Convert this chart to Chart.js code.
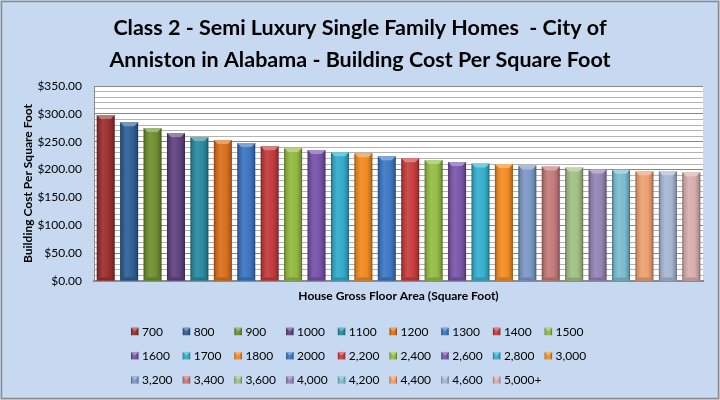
<!DOCTYPE html>
<html>
<head>
<meta charset="utf-8">
<script src="https://cdn.jsdelivr.net/npm/chart.js@4"></script>
<style>
  body { margin: 0; background: #ffffff; }
  #wrap { width: 720px; height: 400px; }
</style>
</head>
<body>
<div id="wrap"><canvas id="costChart" width="720" height="400"></canvas></div>
<script>
// house sizes (legend / categories)
const sizes = ["700", "800", "900", "1000", "1100", "1200", "1300", "1400", "1500",
  "1600", "1700", "1800", "2000", "2,200", "2,400", "2,600", "2,800", "3,000",
  "3,200", "3,400", "3,600", "4,000", "4,200", "4,400", "4,600", "5,000+"];

// building cost per square foot
const costs = [298, 285, 274.5, 265.5, 258.3, 253, 247.5, 242, 238.5,
  235, 231.3, 229.5, 224, 220.5, 217, 213.4, 211, 209.8,
  207.4, 205.6, 203.8, 200.2, 199.6, 197.2, 197.2, 195.4];

const barColors = ["#9B2F2F", "#2F5F97", "#6F8F30", "#5F437F", "#2B8AA0", "#D9701C",
  "#3B75BF", "#C23B3B", "#92B840", "#7752A8", "#33AACC", "#F08A22",
  "#3C78C2", "#C83D3D", "#94BC44", "#7A56AA", "#36B0CE", "#F28C24",
  "#7B98C6", "#C57A7A", "#A2BF84", "#9485B4", "#7BBCD0", "#ECA070",
  "#A7B6D4", "#D8AEAE"];

const yMax = 350;
const yMinorStep = 10;
const yMajorStep = 50;

const titleLines = ["Class 2 - Semi Luxury Single Family Homes  - City of",
  "Anniston in Alabama - Building Cost Per Square Foot"];
const xTitle = "House Gross Floor Area (Square Foot)";
const yTitle = "Building Cost Per Square Foot";

const BAR_PCT = 0.77;

function shade(hex, amt) {
  const n = parseInt(hex.slice(1), 16);
  let r = (n >> 16) & 255, g = (n >> 8) & 255, b = n & 255;
  const t = amt < 0 ? 0 : 255;
  const p = Math.abs(amt);
  r = Math.round(r + (t - r) * p);
  g = Math.round(g + (t - g) * p);
  b = Math.round(b + (t - b) * p);
  return `rgb(${r},${g},${b})`;
}

function bevelGradient(ctx, x0, x1, base) {
  const g = ctx.createLinearGradient(x0, 0, x1, 0);
  g.addColorStop(0, shade(base, -0.4));
  g.addColorStop(0.12, shade(base, -0.1));
  g.addColorStop(0.35, shade(base, 0.08));
  g.addColorStop(0.7, base);
  g.addColorStop(0.9, shade(base, -0.18));
  g.addColorStop(1, shade(base, -0.45));
  return g;
}

function barFill(c) {
  const chart = c.chart;
  const base = barColors[c.dataIndex];
  const xs = chart.scales.x;
  if (!xs || !xs.width) return base;
  const cx = xs.getPixelForValue(c.dataIndex);
  const w = xs.width / sizes.length * BAR_PCT;
  return bevelGradient(chart.ctx, cx - w / 2, cx + w / 2, base);
}

// background, frame and white plot area
const backdrop = {
  id: "backdrop",
  beforeDraw(chart) {
    const { ctx, chartArea: a } = chart;
    ctx.save();
    ctx.fillStyle = "#C6D9F1";
    ctx.fillRect(0, 0, chart.width, chart.height);
    ctx.strokeStyle = "#8A8A8A";
    ctx.lineWidth = 1.5;
    ctx.strokeRect(1.5, 1.5, chart.width - 3, chart.height - 3);
    ctx.fillStyle = "#ffffff";
    ctx.fillRect(a.left, a.top, a.right - a.left, a.bottom - a.top);
    ctx.restore();
  }
};

// light top caps on the bars
const bevelCaps = {
  id: "bevelCaps",
  afterDatasetsDraw(chart) {
    const ctx = chart.ctx;
    const meta = chart.getDatasetMeta(0);
    ctx.save();
    meta.data.forEach((bar, i) => {
      const { x, y, base, width } = bar.getProps(["x", "y", "base", "width"], true);
      const l = x - width / 2, r = x + width / 2;
      const col = barColors[i];
      ctx.fillStyle = shade(col, 0.35);
      ctx.beginPath();
      ctx.moveTo(l, y);
      ctx.lineTo(r, y);
      ctx.lineTo(r - 4, y + 4);
      ctx.lineTo(l + 4, y + 4);
      ctx.closePath();
      ctx.fill();
      ctx.fillStyle = shade(col, -0.15);
      ctx.beginPath();
      ctx.moveTo(l, base);
      ctx.lineTo(r, base);
      ctx.lineTo(r - 4, base - 3);
      ctx.lineTo(l + 4, base - 3);
      ctx.closePath();
      ctx.fill();
    });
    ctx.restore();
  }
};

// legend laid out as a grid, like the original
const gridLegend = {
  id: "gridLegend",
  afterDraw(chart) {
    const ctx = chart.ctx;
    const perRow = 9, x0 = 131, pitch = 51.7, y0 = 331.5, rowGap = 24.2, box = 7.5;
    ctx.save();
    ctx.font = "12px Lato";
    ctx.textBaseline = "middle";
    ctx.textAlign = "left";
    sizes.forEach((label, i) => {
      const x = x0 + (i % perRow) * pitch;
      const y = y0 + Math.floor(i / perRow) * rowGap;
      ctx.fillStyle = bevelGradient(ctx, x, x + box, barColors[i]);
      ctx.fillRect(x, y - box / 2, box, box);
      ctx.fillStyle = shade(barColors[i], 0.35);
      ctx.beginPath();
      ctx.moveTo(x, y - box / 2);
      ctx.lineTo(x + box, y - box / 2);
      ctx.lineTo(x + box / 2, y);
      ctx.closePath();
      ctx.fill();
      ctx.fillStyle = "#000";
      ctx.fillText(label, x + 11, y + 0.5);
    });
    ctx.restore();
  }
};

new Chart(document.getElementById("costChart"), {
  type: "bar",
  data: {
    labels: sizes,
    datasets: [
      {
        label: yTitle,
        data: costs,
        backgroundColor: barFill,
        borderWidth: 0,
        barPercentage: BAR_PCT,
        categoryPercentage: 1,
      },
    ],
  },
  options: {
    responsive: false,
    animation: false,
    layout: { padding: { left: 17, right: 17, top: 0, bottom: 95 } },
    plugins: {
      legend: { display: false },
      tooltip: { enabled: false },
      title: {
        display: true,
        text: titleLines,
        color: "#000",
        font: { family: "Lato", size: 21.5, weight: "bold", lineHeight: 32 / 21.5 },
        padding: { top: 12, bottom: 10 },
      },
    },
    scales: {
      x: {
        grid: { display: false },
        ticks: { display: false },
        border: { display: true, color: "#8C8C8C", width: 2 },
        title: {
          display: true,
          text: xTitle,
          color: "#000",
          font: { family: "Lato", size: 12, weight: "bold" },
          padding: { top: 0, bottom: 2 },
        },
        afterFit(scale) { scale.height = 24; },
      },
      y: {
        min: 0,
        max: yMax,
        border: { display: true, color: "#8C8C8C", width: 1 },
        grid: {
          drawTicks: false,
          color: (c) => (c.tick && c.tick.value % yMajorStep === 0 ? "#868686" : "#B4B4B4"),
          lineWidth: 1,
        },
        ticks: {
          stepSize: yMinorStep,
          autoSkip: false,
          padding: 12,
          color: "#000",
          font: { family: "Lato", size: 12 },
          callback: (v) => (v % yMajorStep === 0 ? "$" + v.toFixed(2) : ""),
        },
        title: {
          display: true,
          text: yTitle,
          color: "#000",
          font: { family: "Lato", size: 12, weight: "bold" },
          padding: { top: 4, bottom: 0 },
        },
        afterFit(scale) { scale.width = 77; },
      },
    },
  },
  plugins: [backdrop, bevelCaps, gridLegend],
});
</script>
</body>
</html>
